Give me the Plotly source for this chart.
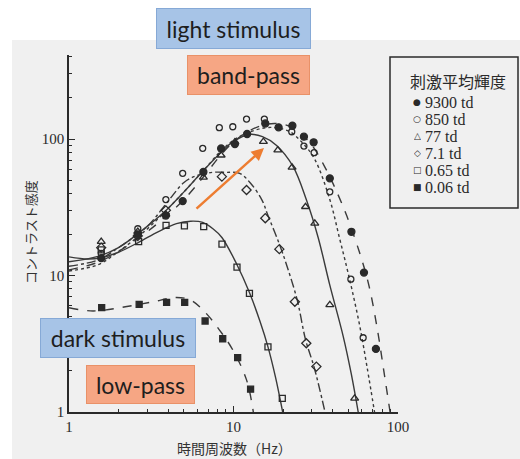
import plotly.graph_objects as go

# ---------------- data ----------------
# measured points: frequency (Hz) and contrast sensitivity
f_9300 = [1.57, 2.62, 3.88, 4.91, 6.56, 8.41, 10.2, 12.1, 15.6, 18.8, 22.8, 26.8, 30.7, 38.5, 52.1, 62.1, 73.4]
s_9300 = [13.4, 20.0, 27.5, 35.1, 57.3, 85.2, 91.9, 108.8, 130, 121.8, 125, 104, 94.6, 51.5, 20.9, 10.5, 2.9]

f_850 = [1.57, 2.62, 3.88, 4.91, 6.5, 8.2, 9.9, 12.0, 15.4, 22.6, 26.8, 30.9, 38.5, 51.7, 61.4]
s_850 = [14.5, 22, 36, 56, 85.5, 121, 123, 140, 140, 113, 88.8, 79.4, 41, 9.4, 3.5]

f_77 = [1.57, 2.62, 3.88, 6.56, 8.41, 10.2, 15.2, 18.6, 22.7, 27.4, 31.2, 38.5, 54.5]
s_77 = [17.7, 21, 28, 52.4, 76, 95, 95.6, 83, 62, 31.9, 24.1, 6.1, 1.26]

f_7 = [1.57, 2.62, 3.88, 8.5, 12.0, 15.6, 19.0, 23.6, 27.7, 31.9]
s_7 = [16.0, 19.5, 30, 53, 42.3, 26.3, 15.6, 6.43, 3.19, 2.15]

f_065 = [1.57, 2.65, 3.89, 5.03, 6.59, 8.51, 10.5, 12.5, 16.2, 19.8]
s_065 = [15.4, 17.7, 23.3, 23.1, 22.8, 17.0, 11.5, 7.4, 3.0, 1.26]

f_006 = [1.58, 2.67, 3.92, 5.05, 6.72, 8.6, 10.6, 12.7]
s_006 = [5.81, 6.15, 6.36, 6.36, 4.64, 3.44, 2.5, 1.47]

# fitted curves
cf_9300 = [1, 1.5, 2, 3, 4, 5, 6.5, 8.5, 10, 12, 15, 18, 22, 26, 31, 36, 41, 49, 59.5, 66.8, 75, 82, 89.5]
cs_9300 = [11, 12.5, 15, 21, 28, 36, 52, 78, 95, 112, 126, 130, 124, 108, 85, 62, 45, 27, 13.7, 8.3, 4.0, 2.0, 1.0]

cf_850 = [1, 1.5, 2, 3, 4, 5, 6.5, 8.5, 10, 12, 15, 18, 22, 26, 31, 38.5, 44, 48.7, 53, 58.7, 65, 72]
cs_850 = [10.8, 12, 15, 22, 31, 41, 58, 83, 98, 110, 120, 121, 113, 95, 72, 36, 19, 11.6, 7.5, 4.2, 2.1, 1]

cf_77 = [1, 1.5, 2, 3, 4, 5, 6.5, 8.5, 10, 12.5, 15, 18.2, 23, 27.7, 32.7, 38.5, 46.4, 52, 57.3]
cs_77 = [12.6, 13.8, 16, 23, 31, 41, 58, 81, 96, 108, 104, 90, 63, 36, 19, 8.5, 3.6, 1.9, 1]

cf_7 = [1, 1.5, 2, 3, 4, 5, 6, 7.5, 9, 10.9, 12.7, 14.9, 16.2, 19, 21.2, 24.4, 27.4, 31, 36]
cs_7 = [11.7, 13, 16, 23, 35, 48, 54, 57, 57, 56, 47.4, 35.7, 27.5, 17, 11.6, 6.6, 3.4, 2.1, 1]

cf_065 = [1, 1.3, 1.57, 2, 2.65, 3.5, 4.5, 5.5, 6.5, 7.5, 8.5, 10.5, 12.5, 14.5, 16.2, 18, 19.9]
cs_065 = [13.7, 13.2, 13.5, 14.8, 17.5, 21, 24, 25, 24.5, 22, 19, 12, 7.5, 4.6, 3.0, 1.8, 1]

cf_006 = [1, 1.4, 2.2, 3.2, 4.5, 5.5, 6.7, 8.2, 9.9, 12, 13.2]
cs_006 = [5.8, 5.5, 5.9, 6.4, 6.9, 6.6, 5.4, 4.0, 2.85, 1.72, 1.0]

legend_title = "刺激平均輝度"
series_labels = ["9300 td", "850 td", "77 td", "7.1 td", "0.65 td", "0.06 td"]
x_ticks = [1, 10, 100]
y_ticks = [1, 10, 100]

# ---------------- layout helpers ----------------
W, H = 520, 459
L, R, T, B = 69, 398, 55, 412
Y_DEC = 136.5


def px(xp):
    return (xp - L) / (R - L)


def py(yp):
    return (B - yp) / (B - T)


INK = "#2a2a2a"
fig = go.Figure()

curves = [
    (cf_9300, cs_9300, "dash"),
    (cf_850, cs_850, "dot"),
    (cf_77, cs_77, "solid"),
    (cf_7, cs_7, "dashdot"),
    (cf_065, cs_065, "solid"),
    (cf_006, cs_006, "dash"),
]
for cf, cs, dash in curves:
    fig.add_trace(go.Scatter(x=cf, y=cs, mode="lines",
                             line=dict(color="#3a3a3a", width=1.4, dash=dash, shape="spline", smoothing=1.0),
                             showlegend=False, hoverinfo="skip"))

points = [
    (f_9300, s_9300, "circle", 7),
    (f_850, s_850, "circle-open", 6),
    (f_77, s_77, "triangle-up-open", 7),
    (f_7, s_7, "diamond-open", 7),
    (f_065, s_065, "square-open", 6),
    (f_006, s_006, "square", 6),
]
for (f, s, sym, size), lab in zip(points, series_labels):
    fig.add_trace(go.Scatter(x=f, y=s, mode="markers", name=lab,
                             marker=dict(symbol=sym, size=size, color=INK, line=dict(color=INK, width=1.3)),
                             showlegend=False))

minor_vals = [m * d for d in (1, 10, 100) for m in range(2, 10)]

fig.update_xaxes(type="log", range=[0, 2.0], showgrid=False, zeroline=False,
                 showline=True, linecolor=INK, linewidth=1.6,
                 tickvals=x_ticks, ticktext=[str(v) for v in x_ticks],
                 ticks="inside", ticklen=6, tickcolor=INK, tickwidth=1.4,
                 tickfont=dict(family="Liberation Serif", size=15, color=INK),
                 minor=dict(tickvals=minor_vals, ticks="inside", ticklen=3, tickcolor=INK, tickwidth=1.1))
fig.update_yaxes(type="log", range=[0, (B - T) / Y_DEC], showgrid=False, zeroline=False,
                 showline=True, linecolor=INK, linewidth=1.6,
                 tickvals=y_ticks, ticktext=[str(v) for v in y_ticks],
                 ticks="inside", ticklen=6, tickcolor=INK, tickwidth=1.4,
                 tickfont=dict(family="Liberation Serif", size=15, color=INK),
                 minor=dict(tickvals=minor_vals, ticks="inside", ticklen=3, tickcolor=INK, tickwidth=1.1))

shapes = [
    dict(type="rect", xref="paper", yref="paper", x0=px(12), x1=px(520), y0=py(40), y1=py(459),
         fillcolor="#f0f0f0", line=dict(width=0), layer="below"),
    dict(type="rect", xref="paper", yref="paper", x0=px(390), x1=px(518), y0=py(57), y1=py(208),
         fillcolor="rgba(0,0,0,0)", line=dict(color=INK, width=1.5), layer="above"),
]

annotations = []
# axis titles
annotations.append(dict(text="コントラスト感度", xref="paper", yref="paper", x=px(30), y=py(232),
                        showarrow=False, textangle=-90, xanchor="center", yanchor="middle",
                        font=dict(family="Noto Sans CJK JP", size=13, color="#333")))
annotations.append(dict(text="時間周波数（Hz）", xref="paper", yref="paper", x=px(234), y=py(448),
                        showarrow=False, xanchor="center", yanchor="middle",
                        font=dict(family="Noto Sans CJK JP", size=14, color="#333")))

# legend
annotations.append(dict(text=legend_title, xref="paper", yref="paper", x=px(458), y=py(81),
                        showarrow=False, xanchor="center", yanchor="middle",
                        font=dict(family="Noto Sans CJK JP", size=16, color=INK)))
legend_syms = ["●", "○", "△", "◇", "□", "■"]
for i, (sym, lab) in enumerate(zip(legend_syms, series_labels)):
    yy = 102 + i * 17
    annotations.append(dict(text=sym, xref="paper", yref="paper", x=px(417), y=py(yy),
                            showarrow=False, xanchor="center", yanchor="middle",
                            height=14, borderpad=0,
                            font=dict(family="DejaVu Sans", size=9, color=INK)))
    annotations.append(dict(text=lab, xref="paper", yref="paper", x=px(424), y=py(yy),
                            showarrow=False, xanchor="left", yanchor="middle",
                            height=14, borderpad=0, valign="middle",
                            font=dict(family="Liberation Serif", size=16, color=INK)))

# label boxes
BLUE, BLUE_E = "#a7c4e7", "#86a9d6"
ORNG, ORNG_E = "#f6a684", "#e99168"
boxes = [
    ("light stimulus", 156, 311, 8, 49, BLUE, BLUE_E),
    ("band-pass", 187, 310, 55, 95, ORNG, ORNG_E),
    ("dark stimulus", 40, 196, 318, 358, BLUE, BLUE_E),
    ("low-pass", 86, 195, 365, 404, ORNG, ORNG_E),
]
for txt, x0, x1, y0, y1, fc, ec in boxes:
    annotations.append(dict(text=txt, xref="paper", yref="paper", x=px((x0 + x1) / 2), y=py((y0 + y1) / 2),
                            showarrow=False, xanchor="center", yanchor="middle",
                            width=x1 - x0 - 2, height=y1 - y0 - 2, borderpad=0, borderwidth=1,
                            bgcolor=fc, bordercolor=ec, align="center", valign="middle",
                            font=dict(family="Lato", size=23, color="#1e1e1e")))

# orange arrow
annotations.append(dict(text="", xref="paper", yref="paper", x=px(264), y=py(148),
                        ax=195 - 264, ay=210 - 148, axref="pixel", ayref="pixel",
                        showarrow=True, arrowhead=2, arrowsize=1, arrowwidth=2.5, arrowcolor="#ed7d31"))

fig.update_layout(width=W, height=H, autosize=False,
                  margin=dict(l=L, r=W - R, t=T, b=H - B, pad=0),
                  paper_bgcolor="white", plot_bgcolor="rgba(0,0,0,0)",
                  shapes=shapes, annotations=annotations, showlegend=False)

fig.write_html("out.html")
